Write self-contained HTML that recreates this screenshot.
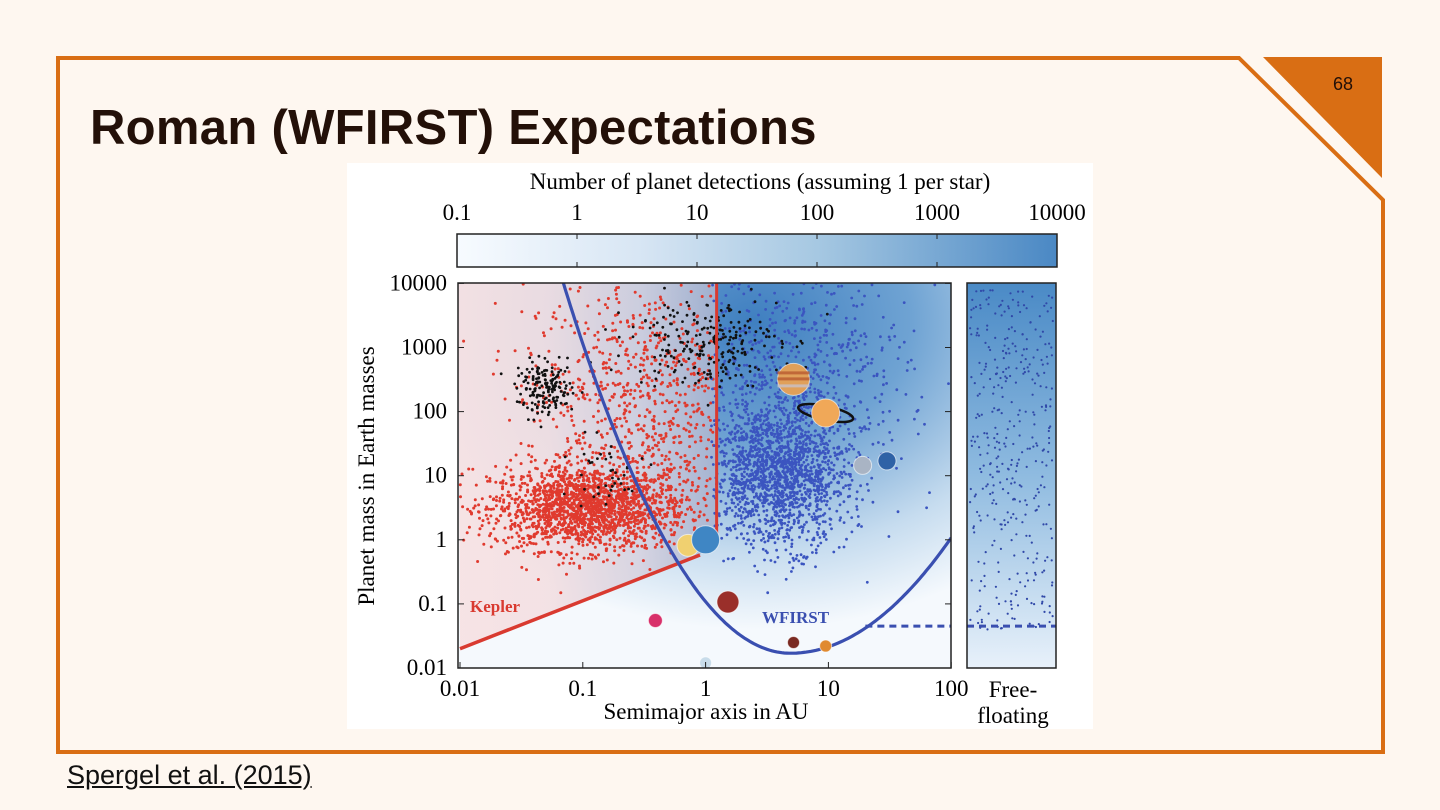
<!DOCTYPE html>
<html><head><meta charset="utf-8"><style>
html,body{margin:0;padding:0;background:#FEF7F0;}
body{width:1440px;height:810px;position:relative;overflow:hidden;font-family:"Liberation Sans",sans-serif;}
#title{position:absolute;left:90px;top:100px;font-size:49px;font-weight:bold;color:#231008;letter-spacing:0.3px;margin:0}
#cite{position:absolute;left:67px;top:760px;font-size:27px;color:#111;text-decoration:underline;}
svg text{font-family:"Liberation Serif",serif;}
</style></head><body>
<svg width="1440" height="810" style="position:absolute;left:0;top:0">
<polyline points="58,752 58,58 1239,58 1383,200 1383,752 56,752" fill="none" stroke="#D96E14" stroke-width="4"/>
<polygon points="1263,57 1382,57 1382,178" fill="#D96E14"/>
<text x="1343" y="90" font-size="18" text-anchor="middle" style="font-family:'Liberation Sans',sans-serif" fill="#231008">68</text>
</svg>
<h1 id="title">Roman (WFIRST) Expectations</h1>
<a id="cite">Spergel et al. (2015)</a>

<svg id="chart" width="1440" height="810" style="position:absolute;left:0;top:0">
<defs>
<linearGradient id="cb" x1="0" x2="1"><stop offset="0" stop-color="#f7fbff"/><stop offset="0.3" stop-color="#d8e6f4"/><stop offset="0.6" stop-color="#a6c8e2"/><stop offset="1" stop-color="#4a88c4"/></linearGradient>
<radialGradient id="bg1" cx="0.6" cy="0.1" r="0.8"><stop offset="0" stop-color="#3f7fc0"/><stop offset="0.4" stop-color="#6fa3d3"/><stop offset="0.75" stop-color="#c6dcef"/><stop offset="1" stop-color="#f5f9fd"/></radialGradient>
<linearGradient id="ff" x1="0" y1="0" x2="0" y2="1"><stop offset="0" stop-color="#4a8ac6"/><stop offset="0.5" stop-color="#8fbbe0"/><stop offset="1" stop-color="#e8f1fa"/></linearGradient>
<linearGradient id="pk" x1="0" x2="1"><stop offset="0" stop-color="#f7e1e2"/><stop offset="0.35" stop-color="#f3dfe2"/><stop offset="0.7" stop-color="#d7d3e0"/><stop offset="1" stop-color="#a8b4d0"/></linearGradient>
<clipPath id="pc"><rect x="458" y="283" width="493" height="385"/></clipPath>
<clipPath id="fc"><rect x="967" y="283" width="89" height="385"/></clipPath>
</defs>
<rect x="347" y="163" width="746" height="566" fill="#fff"/>
<text x="760" y="189" font-size="23" text-anchor="middle">Number of planet detections (assuming 1 per star)</text>
<rect x="457" y="234" width="600" height="33" fill="url(#cb)" stroke="#222" stroke-width="1.5"/>
<g id="cbt"></g>
<rect x="458" y="283" width="493" height="385" fill="url(#bg1)"/>
<g clip-path="url(#pc)" id="plotg"></g>
<rect x="967" y="283" width="89" height="385" fill="url(#ff)"/>
<g clip-path="url(#fc)" id="ffg"></g>
<rect x="458" y="283" width="493" height="385" fill="none" stroke="#222" stroke-width="1.5"/>
<rect x="967" y="283" width="89" height="385" fill="none" stroke="#222" stroke-width="1.5"/>
<g id="axes"></g>
<text transform="translate(374,476) rotate(-90)" font-size="23" text-anchor="middle">Planet mass in Earth masses</text>
<text x="706" y="719" font-size="23" text-anchor="middle">Semimajor axis in AU</text>
<text x="1013" y="697" font-size="23" text-anchor="middle">Free-</text>
<text x="1013" y="723" font-size="23" text-anchor="middle">floating</text>
</svg>
<script>
const cbTicks=["0.1","1","10","100","1000","10000"];
const xTicks=[0.01,0.1,1,10,100];
const xTickLabels=["0.01","0.1","1","10","100"];
const yTicks=[0.01,0.1,1,10,100,1000,10000];
const yTickLabels=["0.01","0.1","1","10","100","1000","10000"];
// clusters: [logA center, logM center, sigmaA, sigmaM, count]
const redClusters=[[-0.95,0.5,0.4,0.33,1900],[-0.5,2.3,0.5,0.9,800]];
const blackClusters=[[-1.3,2.35,0.12,0.2,170],[0,3.1,0.3,0.35,240],[-0.85,1,0.2,0.3,40]];
const blueClusters=[[0.6,1,0.28,0.55,1700],[0.75,2.5,0.45,0.85,700]];
const freeCount=380;
const keplerLine=[[0.01,0.02],[0.9,0.58]];
const keplerVertical=[1.23,1.1,10000];
const wfirstMin=[4.9,0.017];
const wfirstK=[1.69,1.05];
const dashedMass=0.045, dashedStart=20;
const planets=[["mercury",0.39,0.055,7,"#d8306a"],["venus",0.72,0.82,11,"#f0d070"],["earth",1,1,14,"#3f86c4"],["mars",1.52,0.107,11,"#9a2f2a"],["moon",1,0.012,6,"#c8dcea"],["jupiter",5.2,318,16,"#e0a05a"],["saturn",9.5,95,14,"#f0a858"],["uranus",19,14.5,9,"#a9b4c4"],["neptune",30,17,9,"#2f62a6"],["small-brown",5.2,0.025,6,"#7a2a22"],["small-orange",9.5,0.022,6,"#e08a30"]];
const NS="http://www.w3.org/2000/svg";
const X=a=>460+(Math.log10(a)+2)*122.8;
const Y=m=>668-(Math.log10(m)+2)*64.1;
function mk(t,at,p){const e=document.createElementNS(NS,t);for(const k in at)e.setAttribute(k,at[k]);p.appendChild(e);return e;}
const cbt=document.getElementById('cbt');
cbTicks.forEach((l,i)=>{const x=457+i*120;
 const t=mk('text',{x:x,y:220,'font-size':23,'text-anchor':'middle'},cbt);t.textContent=l;
 
 if(i>0&&i<5){mk('line',{x1:x,x2:x,y1:234,y2:239,stroke:'#222'},cbt);mk('line',{x1:x,x2:x,y1:262,y2:267,stroke:'#222'},cbt);}});
const ax=document.getElementById('axes');
xTicks.forEach((v,i)=>{const t=mk('text',{x:X(v),y:696,'font-size':23,'text-anchor':'middle'},ax);t.textContent=xTickLabels[i];
 
 mk('line',{x1:X(v),x2:X(v),y1:668,y2:662,stroke:'#222'},ax);});
yTicks.forEach((v,i)=>{const t=mk('text',{x:447,y:Y(v)+7,'font-size':23,'text-anchor':'end'},ax);t.textContent=yTickLabels[i];
 
 mk('line',{x1:458,x2:464,y1:Y(v),y2:Y(v),stroke:'#222'},ax);mk('line',{x1:951,x2:945,y1:Y(v),y2:Y(v),stroke:'#222'},ax);});
const g=document.getElementById('plotg');
const pink=mk('polygon',{points:`${X(0.01)},${Y(0.02)} ${X(keplerLine[1][0])},${Y(keplerLine[1][1])} ${X(keplerVertical[0])},${Y(keplerVertical[1])} ${X(keplerVertical[0])},283 458,283`,fill:'url(#pk)',opacity:0.9},g);

const wf=a=>{const x=Math.log10(a),x0=Math.log10(wfirstMin[0]),k=x<x0?wfirstK[0]:wfirstK[1];return Math.pow(10,Math.log10(wfirstMin[1])+k*(x-x0)*(x-x0));};
let s=12345;const rnd=()=>{s=(s*1103515245+12345)%2147483648;return s/2147483648;};
const gauss=()=>{const u=rnd()||1e-9,v=rnd();return Math.sqrt(-2*Math.log(u))*Math.cos(6.2832*v);};
function cloud(cl,col,test,r){cl.forEach(c=>{for(let i=0;i<c[4];i++){const la=c[0]+c[2]*gauss(),lm=c[1]+c[3]*gauss();
 const a=Math.pow(10,la),m=Math.pow(10,lm);if(!test(a,m))continue;
 const d=mk('circle',{cx:X(a).toFixed(1),cy:Y(m).toFixed(1),r:r,fill:col},g);
 }});}
const kep=(a,m)=>a<keplerVertical[0]&&Math.log10(m)>Math.log10(0.02)+(Math.log10(a)+2)*(Math.log10(0.58/0.02)/Math.log10(90))&&m<10000&&a>0.01;
cloud(redClusters,'#e03a2e',kep,1.5);
cloud(blueClusters,'#3b55c0',(a,m)=>a>=keplerVertical[0]*0.9&&m>wf(a)&&m<10000&&a<100,1.4);
cloud(blackClusters,'#111',(a,m)=>m<10000&&a>0.01,1.4);
let l=mk('line',{x1:X(keplerLine[0][0]),y1:Y(keplerLine[0][1]),x2:X(keplerLine[1][0]),y2:Y(keplerLine[1][1]),stroke:'#d93a30','stroke-width':3.5},g);

l=mk('line',{x1:X(keplerVertical[0]),y1:Y(keplerVertical[1]),x2:X(keplerVertical[0]),y2:Y(keplerVertical[2]),stroke:'#d93a30','stroke-width':3},g);

let pts=[];for(let la=-2;la<=2.001;la+=0.02){const a=Math.pow(10,la);pts.push(X(a).toFixed(1)+','+Y(wf(a)).toFixed(1));}
l=mk('polyline',{points:pts.join(' '),fill:'none',stroke:'#3a4fb0','stroke-width':3.2},g);

l=mk('line',{x1:X(dashedStart),x2:951,y1:Y(dashedMass),y2:Y(dashedMass),stroke:'#3a4fb0','stroke-width':3,'stroke-dasharray':'7,5'},g);

let t=mk('text',{x:470,y:612,'font-size':17,'font-weight':'bold',fill:'#d93a30'},g);t.textContent='Kepler';

t=mk('text',{x:762,y:623,'font-size':17,'font-weight':'bold',fill:'#3a4fb0'},g);t.textContent='WFIRST';

planets.forEach(p=>{const cx=X(p[1]),cy=Y(p[2]);
 if(p[0]==='saturn'){const r=mk('ellipse',{cx:cx,cy:cy,rx:28,ry:7,fill:'none',stroke:'#111','stroke-width':2.5,transform:`rotate(12 ${cx} ${cy})`},g);}
 const c=mk('circle',{cx:cx,cy:cy,r:p[3],fill:p[4],stroke:'rgba(255,255,255,0.6)','stroke-width':1},g);
 
 if(p[0]==='jupiter'){[-8,-2,5].forEach(o=>mk('rect',{x:cx-16,y:cy+o,width:32,height:3,fill:o>0?'#c8c0c8':'#b85a30',opacity:0.8},g));}
});
const fg=document.getElementById('ffg');
for(let i=0;i<freeCount;i++){const x=970+rnd()*83;const y=290+Math.pow(rnd(),1.1)*340;
 const d=mk('circle',{cx:x.toFixed(1),cy:y.toFixed(1),r:1.1,fill:'#3048a8'},fg);
 }
l=mk('line',{x1:967,x2:1056,y1:Y(dashedMass),y2:Y(dashedMass),stroke:'#3a4fb0','stroke-width':3,'stroke-dasharray':'7,5'},fg);

</script>
</body></html>
